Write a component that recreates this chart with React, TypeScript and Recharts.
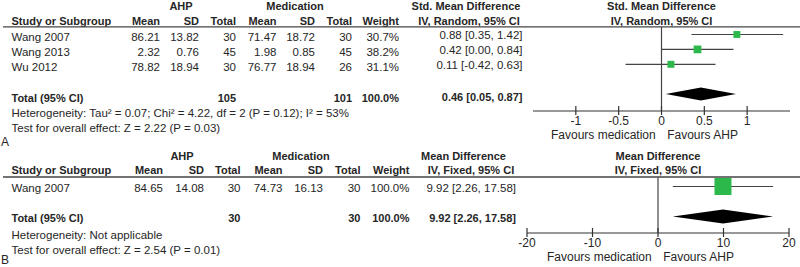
import React from "react";
import { ComposedChart, Bar, XAxis, YAxis, ReferenceLine } from "recharts";

// ---- panel A: AHP vs medication, std. mean difference (random) ----
const studiesA = ["Wang 2007", "Wang 2013", "Wu 2012"];
const ahpMeanA = [86.21, 2.32, 78.82];
const ahpSdA = [13.82, 0.76, 18.94];
const ahpTotalA = [30, 45, 30];
const medMeanA = [71.47, 1.98, 76.77];
const medSdA = [18.72, 0.85, 18.94];
const medTotalA = [30, 45, 26];
const weightA = [30.7, 38.2, 31.1];
const effectA = [0.88, 0.42, 0.11];
const lowerA = [0.35, 0.0, -0.42];
const upperA = [1.42, 0.84, 0.63];
const pooledA = [0.46, 0.05, 0.87]; // estimate, lower, upper
const groupTotalsA = [105, 101];
const ticksA = [-1, -0.5, 0, 0.5, 1];
const domainA = [-1.5, 1.5];
const hetA = "Heterogeneity: Tau² = 0.07; Chi² = 4.22, df = 2 (P = 0.12); I² = 53%";
const testA = "Test for overall effect: Z = 2.22 (P = 0.03)";

// ---- panel B: AHP vs medication, mean difference (fixed) ----
const studiesB = ["Wang 2007"];
const ahpMeanB = [84.65];
const ahpSdB = [14.08];
const ahpTotalB = [30];
const medMeanB = [74.73];
const medSdB = [16.13];
const medTotalB = [30];
const weightB = [100.0];
const effectB = [9.92];
const lowerB = [2.26];
const upperB = [17.58];
const pooledB = [9.92, 2.26, 17.58];
const groupTotalsB = [30, 30];
const ticksB = [-20, -10, 0, 10, 20];
const domainB = [-20, 20];
const hetB = "Heterogeneity: Not applicable";
const testB = "Test for overall effect: Z = 2.54 (P = 0.01)";

const FONT = "'Liberation Sans', Arial, Helvetica, sans-serif";
const INK = "#262626";
const GREEN = "#2db84b";

function buildRows(studies: string[], eff: number[], lo: number[], hi: number[], w: number[], pooled: number[]) {
  const rows: any[] = studies.map((s, i) => ({ name: s, kind: "study", est: eff[i], weight: w[i], ci: [lo[i], hi[i]] }));
  rows.push({ name: "gap", kind: "gap", est: 0, weight: 0, ci: null });
  rows.push({ name: "Total (95% CI)", kind: "total", est: pooled[0], weight: 100, ci: [pooled[1], pooled[2]] });
  return rows;
}

function ForestMark(props: any) {
  const { x, y, width, height, payload, boxScale, halfDiamond } = props;
  if (!payload || payload.kind === "gap" || !payload.ci || width == null) return <g />;
  const [lo, hi] = payload.ci;
  const cy = y + height / 2;
  const px = x + (width * (payload.est - lo)) / (hi - lo);
  if (payload.kind === "total") {
    const pts = `${x},${cy} ${px},${cy - halfDiamond} ${x + width},${cy} ${px},${cy + halfDiamond}`;
    return <polygon points={pts} fill="#000" />;
  }
  const side = Math.sqrt(payload.weight) * boxScale;
  return (
    <g>
      <line x1={x} x2={x + width} y1={cy} y2={cy} stroke="#444" strokeWidth={1.2} />
      <rect x={px - side / 2} y={cy - side / 2} width={side} height={side} fill={GREEN} />
    </g>
  );
}

function AxisTick(props: any) {
  const { x, y, payload } = props;
  return (
    <g>
      <line x1={x} x2={x} y1={y - 5} y2={y + 4} stroke="#333" strokeWidth={1.2} />
      <text x={x} y={y + 10} textAnchor="middle" dominantBaseline="central" fontSize={12} fill={INK} fontFamily={FONT}>
        {payload.value}
      </text>
    </g>
  );
}

function ForestPanel(p: any) {
  return (
    <div style={{ position: "absolute", left: 0, top: p.top, width: 800, height: p.height }}>
      <ComposedChart
        width={800}
        height={p.height}
        layout="vertical"
        data={p.rows}
        margin={{ top: p.marginTop, right: p.right, bottom: 0, left: p.left }}
      >
        <XAxis
          type="number"
          domain={p.domain}
          ticks={p.ticks}
          allowDataOverflow
          interval={0}
          height={p.axisHeight}
          axisLine={{ stroke: "#333", strokeWidth: 1.2 }}
          tickLine={false}
          tickSize={0}
          tickMargin={0}
          tick={<AxisTick />}
        />
        <YAxis type="category" dataKey="name" hide width={0} padding={{ top: p.padTop, bottom: p.padBottom }} />
        <ReferenceLine x={0} stroke="#444" strokeWidth={1.2} />
        <Bar
          dataKey="ci"
          barSize={10}
          isAnimationActive={false}
          shape={(s: any) => <ForestMark {...s} boxScale={p.boxScale} halfDiamond={p.halfDiamond} />}
        />
      </ComposedChart>
    </div>
  );
}

function T({ x, y, children, anchor = "start", bold = false, size }: any) {
  return (
    <text
      x={x}
      y={y}
      textAnchor={anchor}
      dominantBaseline="central"
      fontSize={size ?? (bold ? 11 : 11.5)}
      fontWeight={bold ? "bold" : "normal"}
      fill={INK}
      fontFamily={FONT}
    >
      {children}
    </text>
  );
}

const ciText = (e: number, l: number, h: number) => `${e.toFixed(2)} [${l.toFixed(2)}, ${h.toFixed(2)}]`;

function Table(p: any) {
  const c = p.cols; // right edges: mean, sd, total, mean, sd, total, weight
  return (
    <g>
      <T x={p.ahpX} y={p.h1} anchor="middle" bold>AHP</T>
      <T x={p.medX} y={p.h1} anchor="middle" bold>Medication</T>
      <T x={p.ciH1X} y={p.h1} anchor="middle" bold>{p.measure}</T>
      <T x={p.plotMid} y={p.h1} anchor="middle" bold>{p.measure}</T>
      <T x={11.5} y={p.h2} bold>Study or Subgroup</T>
      {["Mean", "SD", "Total", "Mean", "SD", "Total", "Weight"].map((h, i) => (
        <T key={i} x={c[i]} y={p.h2} anchor="end" bold>{h}</T>
      ))}
      <T x={p.ciH2X} y={p.h2} anchor="middle" bold>{p.method}</T>
      <T x={p.plotMid} y={p.h2} anchor="middle" bold>{p.method}</T>
      <line x1={3} x2={800} y1={p.rule} y2={p.rule} stroke="#444" strokeWidth={1.3} />
      {p.studies.map((s: string, i: number) => {
        const vals = [
          p.ahpMean[i].toFixed(2), p.ahpSd[i].toFixed(2), p.ahpTotal[i],
          p.medMean[i].toFixed(2), p.medSd[i].toFixed(2), p.medTotal[i],
          `${p.weight[i].toFixed(1)}%`,
        ];
        return (
          <g key={s}>
            <T x={11.5} y={p.rowY[i]}>{s}</T>
            {vals.map((v, j) => (
              <T key={j} x={c[j]} y={p.rowY[i]} anchor="end">{v}</T>
            ))}
            <T x={p.ciRight} y={p.ciY[i]} anchor="end">{ciText(p.effect[i], p.lower[i], p.upper[i])}</T>
          </g>
        );
      })}
      <T x={11.5} y={p.totalY} bold>Total (95% CI)</T>
      <T x={c[2]} y={p.totalY} anchor="end" bold>{p.groupTotals[0]}</T>
      <T x={c[5]} y={p.totalY} anchor="end" bold>{p.groupTotals[1]}</T>
      <T x={c[6]} y={p.totalY} anchor="end" bold>100.0%</T>
      <T x={p.ciRight} y={p.totalCiY} anchor="end" bold>{ciText(p.pooled[0], p.pooled[1], p.pooled[2])}</T>
      <T x={11.5} y={p.hetY}>{p.het}</T>
      <T x={11.5} y={p.testY}>{p.test}</T>
      <T x={p.zeroX - 6} y={p.favY} anchor="end" size={12}>Favours medication</T>
      <T x={p.zeroX + 5.5} y={p.favY} size={12}>Favours AHP</T>
      <T x={1} y={p.letterY} size={12}>{p.letter}</T>
    </g>
  );
}

export default function App() {
  const rowsA = buildRows(studiesA, effectA, lowerA, upperA, weightA, pooledA);
  const rowsB = buildRows(studiesB, effectB, lowerB, upperB, weightB, pooledB);
  return (
    <div style={{ position: "absolute", left: 0, top: 0, width: 800, height: 267, background: "#fff", overflow: "hidden" }}>
      <ForestPanel
        rows={rowsA} domain={domainA} ticks={ticksA}
        top={0} height={135} marginTop={27} left={533} right={10} axisHeight={24}
        padTop={0.5} padBottom={9} boxScale={1.25} halfDiamond={6.5}
      />
      <ForestPanel
        rows={rowsB} domain={domainB} ticks={ticksB}
        top={135} height={132} marginTop={42.5} left={527} right={11} axisHeight={34}
        padTop={1} padBottom={9.5} boxScale={1.7} halfDiamond={7}
      />
      <svg width={800} height={267} style={{ position: "absolute", left: 0, top: 0, pointerEvents: "none" }}>
        <Table
          studies={studiesA} ahpMean={ahpMeanA} ahpSd={ahpSdA} ahpTotal={ahpTotalA}
          medMean={medMeanA} medSd={medSdA} medTotal={medTotalA} weight={weightA}
          effect={effectA} lower={lowerA} upper={upperA} pooled={pooledA} groupTotals={groupTotalsA}
          het={hetA} test={testA} measure="Std. Mean Difference" method="IV, Random, 95% CI"
          cols={[160, 199, 236, 276.5, 315, 352, 399]} ciRight={522.5}
          ahpX={181} medX={295} ciH1X={466} ciH2X={469} plotMid={661.5}
          h1={5.5} h2={20.5} rule={26.8} rowY={[37, 52, 67]} ciY={[35, 50, 65]} totalY={98} totalCiY={96.5}
          hetY={113.3} testY={128.3} favY={135} zeroX={661.7} letterY={142} letter="A"
        />
        <Table
          studies={studiesB} ahpMean={ahpMeanB} ahpSd={ahpSdB} ahpTotal={ahpTotalB}
          medMean={medMeanB} medSd={medSdB} medTotal={medTotalB} weight={weightB}
          effect={effectB} lower={lowerB} upper={upperB} pooled={pooledB} groupTotals={groupTotalsB}
          het={hetB} test={testB} measure="Mean Difference" method="IV, Fixed, 95% CI"
          cols={[163, 204, 240.5, 282.5, 323, 360.5, 409.5]} ciRight={516}
          ahpX={182} medX={301} ciH1X={463.5} ciH2X={471} plotMid={658}
          h1={155.7} h2={170} rule={177} rowY={[188]} ciY={[188]} totalY={218} totalCiY={218}
          hetY={235} testY={250} favY={257} zeroX={657.7} letterY={260} letter="B"
        />
      </svg>
    </div>
  );
}
